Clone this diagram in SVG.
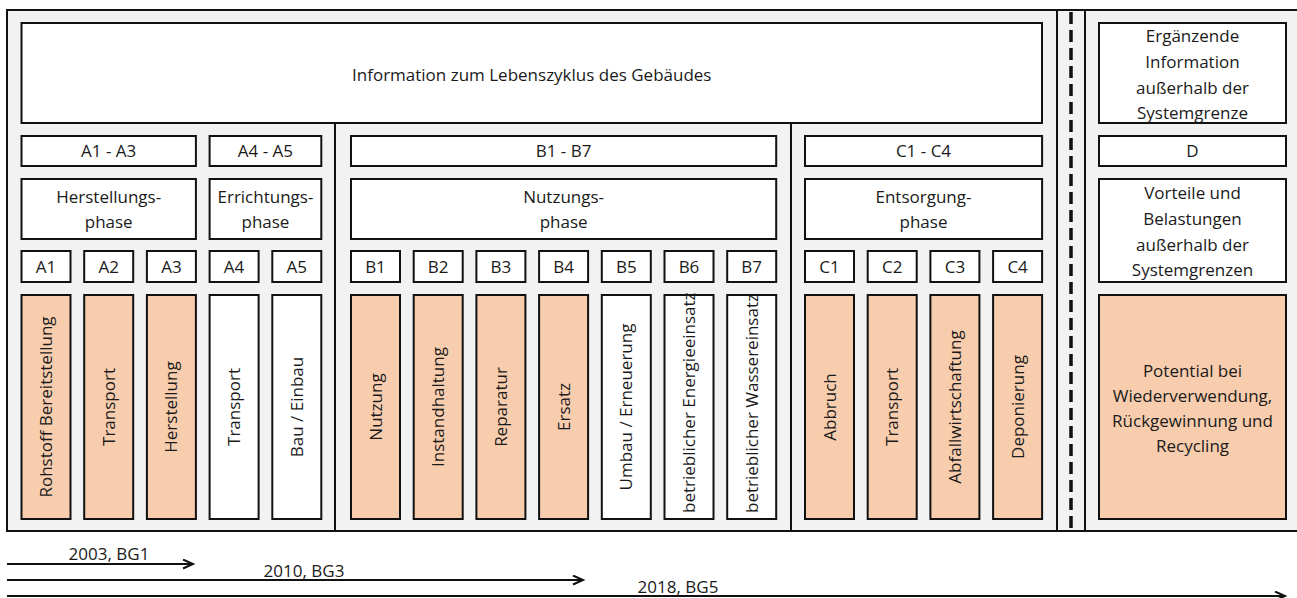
<svg xmlns="http://www.w3.org/2000/svg" width="1297" height="598" viewBox="0 0 1297 598">
<style>
.bx{fill:#fff;stroke:#111;stroke-width:2}
.or{fill:#f8cdae;stroke:#111;stroke-width:2}
.t{font-family:"Open Sans","Liberation Sans",sans-serif;font-size:17px;fill:#1a1a1a;text-anchor:middle}
.v{font-family:"Open Sans","Liberation Sans",sans-serif;font-size:17px;fill:#1a1a1a;text-anchor:middle}
.vs{font-family:"Open Sans","Liberation Sans",sans-serif;font-size:17px;fill:#1a1a1a;text-anchor:start}
.sep{stroke:#111;stroke-width:2;fill:none}
.arr{stroke:#111;stroke-width:2;fill:none;marker-end:url(#ah)}
</style>
<defs>
<marker id="ah" markerUnits="userSpaceOnUse" markerWidth="14" markerHeight="12" refX="11" refY="5" orient="auto">
<path d="M1,0.5 L11,5 L1,9.5" fill="none" stroke="#111" stroke-width="2"/>
</marker>
</defs>

<g id="frame">
<rect x="7" y="10" width="1300" height="521" fill="#f2f2f2" stroke="#111" stroke-width="2"/>
<line class="sep" x1="335" y1="123" x2="335" y2="531"/>
<line class="sep" x1="791" y1="123" x2="791" y2="531"/>
<line class="sep" x1="1057" y1="10" x2="1057" y2="531"/>
<line class="sep" x1="1085" y1="10" x2="1085" y2="531"/>
<line x1="1071" y1="12" x2="1071" y2="531" stroke="#111" stroke-width="3.5" stroke-dasharray="12,6"/>
</g>

<g id="title">
<rect class="bx" x="21.5" y="23" width="1020.5" height="100"/>
<text class="t" x="531.75" y="81">Information zum Lebenszyklus des Gebäudes</text>
</g>

<g id="A1-A3">
<rect class="bx" x="21.5" y="136" width="174.4" height="30"/>
<text class="t" x="108.7" y="157">A1 - A3</text>
</g>
<g id="A4-A5">
<rect class="bx" x="209.6" y="136" width="111.7" height="30"/>
<text class="t" x="265.45" y="157">A4 - A5</text>
</g>
<g id="B1-B7">
<rect class="bx" x="351" y="136" width="425.2" height="30"/>
<text class="t" x="563.6" y="157">B1 - B7</text>
</g>
<g id="C1-C4">
<rect class="bx" x="805" y="136" width="237.1" height="30"/>
<text class="t" x="923.5" y="157">C1 - C4</text>
</g>
<g id="D">
<rect class="bx" x="1099" y="136" width="187" height="30"/>
<text class="t" x="1192.5" y="157">D</text>
</g>

<g id="ergaenzende">
<rect class="bx" x="1099" y="23" width="187" height="100"/>
<text class="t" x="1192.5" y="42">Ergänzende</text>
<text class="t" x="1192.5" y="68">Information</text>
<text class="t" x="1192.5" y="94">außerhalb der</text>
<text class="t" x="1192.5" y="119">Systemgrenze</text>
</g>

<g id="herstellungsphase">
<rect class="bx" x="21.5" y="179" width="174.4" height="60"/>
<text class="t" x="108.7" y="203">Herstellungs-</text>
<text class="t" x="108.7" y="228">phase</text>
</g>
<g id="errichtungsphase">
<rect class="bx" x="209.6" y="179" width="111.7" height="60"/>
<text class="t" x="265.45" y="203">Errichtungs-</text>
<text class="t" x="265.45" y="228">phase</text>
</g>
<g id="nutzungsphase">
<rect class="bx" x="351" y="179" width="425.2" height="60"/>
<text class="t" x="563.6" y="203">Nutzungs-</text>
<text class="t" x="563.6" y="228">phase</text>
</g>
<g id="entsorgungphase">
<rect class="bx" x="805" y="179" width="237.1" height="60"/>
<text class="t" x="923.5" y="203">Entsorgung-</text>
<text class="t" x="923.5" y="228">phase</text>
</g>
<g id="vorteile">
<rect class="bx" x="1099" y="179" width="187" height="103"/>
<text class="t" x="1192.5" y="199">Vorteile und</text>
<text class="t" x="1192.5" y="225">Belastungen</text>
<text class="t" x="1192.5" y="251">außerhalb der</text>
<text class="t" x="1192.5" y="276">Systemgrenzen</text>
</g>

<!-- module code boxes -->
<g id="A1"><rect class="bx" x="21.5" y="251" width="49" height="31"/><text class="t" x="46" y="273">A1</text></g>
<g id="A2"><rect class="bx" x="84.2" y="251" width="49" height="31"/><text class="t" x="108.7" y="273">A2</text></g>
<g id="A3"><rect class="bx" x="146.9" y="251" width="49" height="31"/><text class="t" x="171.4" y="273">A3</text></g>
<g id="A4"><rect class="bx" x="209.6" y="251" width="49" height="31"/><text class="t" x="234.1" y="273">A4</text></g>
<g id="A5"><rect class="bx" x="272.3" y="251" width="49" height="31"/><text class="t" x="296.8" y="273">A5</text></g>
<g id="B1"><rect class="bx" x="351" y="251" width="49" height="31"/><text class="t" x="375.5" y="273">B1</text></g>
<g id="B2"><rect class="bx" x="413.7" y="251" width="49" height="31"/><text class="t" x="438.2" y="273">B2</text></g>
<g id="B3"><rect class="bx" x="476.4" y="251" width="49" height="31"/><text class="t" x="500.9" y="273">B3</text></g>
<g id="B4"><rect class="bx" x="539.1" y="251" width="49" height="31"/><text class="t" x="563.6" y="273">B4</text></g>
<g id="B5"><rect class="bx" x="601.8" y="251" width="49" height="31"/><text class="t" x="626.3" y="273">B5</text></g>
<g id="B6"><rect class="bx" x="664.5" y="251" width="49" height="31"/><text class="t" x="689" y="273">B6</text></g>
<g id="B7"><rect class="bx" x="727.2" y="251" width="49" height="31"/><text class="t" x="751.7" y="273">B7</text></g>
<g id="C1"><rect class="bx" x="805" y="251" width="49" height="31"/><text class="t" x="829.5" y="273">C1</text></g>
<g id="C2"><rect class="bx" x="867.7" y="251" width="49" height="31"/><text class="t" x="892.2" y="273">C2</text></g>
<g id="C3"><rect class="bx" x="930.4" y="251" width="49" height="31"/><text class="t" x="954.9" y="273">C3</text></g>
<g id="C4"><rect class="bx" x="993.1" y="251" width="49" height="31"/><text class="t" x="1017.6" y="273">C4</text></g>

<!-- tall process boxes -->
<g id="rohstoff"><rect class="or" x="21.5" y="295" width="49" height="224"/><text class="v" x="52" y="407" transform="rotate(-90 52 407)">Rohstoff Bereitstellung</text></g>
<g id="transport-a2"><rect class="or" x="84.2" y="295" width="49" height="224"/><text class="v" x="114.7" y="407" transform="rotate(-90 114.7 407)">Transport</text></g>
<g id="herstellung"><rect class="or" x="146.9" y="295" width="49" height="224"/><text class="v" x="177.4" y="407" transform="rotate(-90 177.4 407)">Herstellung</text></g>
<g id="transport-a4"><rect class="bx" x="209.6" y="295" width="49" height="224"/><text class="v" x="240.1" y="407" transform="rotate(-90 240.1 407)">Transport</text></g>
<g id="bau"><rect class="bx" x="272.3" y="295" width="49" height="224"/><text class="v" x="302.8" y="407" transform="rotate(-90 302.8 407)">Bau / Einbau</text></g>
<g id="nutzung"><rect class="or" x="351" y="295" width="49" height="224"/><text class="v" x="381.5" y="407" transform="rotate(-90 381.5 407)">Nutzung</text></g>
<g id="instandhaltung"><rect class="or" x="413.7" y="295" width="49" height="224"/><text class="v" x="444.2" y="407" transform="rotate(-90 444.2 407)">Instandhaltung</text></g>
<g id="reparatur"><rect class="or" x="476.4" y="295" width="49" height="224"/><text class="v" x="506.9" y="407" transform="rotate(-90 506.9 407)">Reparatur</text></g>
<g id="ersatz"><rect class="or" x="539.1" y="295" width="49" height="224"/><text class="v" x="569.6" y="407" transform="rotate(-90 569.6 407)">Ersatz</text></g>
<g id="umbau"><rect class="bx" x="601.8" y="295" width="49" height="224"/><text class="v" x="632.3" y="407" transform="rotate(-90 632.3 407)">Umbau / Erneuerung</text></g>
<g id="energie"><rect class="bx" x="664.5" y="295" width="49" height="224"/><text class="vs" x="695" y="513" transform="rotate(-90 695 513)">betrieblicher Energieeinsatz</text></g>
<g id="wasser"><rect class="bx" x="727.2" y="295" width="49" height="224"/><text class="vs" x="757.7" y="513" transform="rotate(-90 757.7 513)">betrieblicher Wassereinsatz</text></g>
<g id="abbruch"><rect class="or" x="805" y="295" width="49" height="224"/><text class="v" x="835.5" y="407" transform="rotate(-90 835.5 407)">Abbruch</text></g>
<g id="transport-c2"><rect class="or" x="867.7" y="295" width="49" height="224"/><text class="v" x="898.2" y="407" transform="rotate(-90 898.2 407)">Transport</text></g>
<g id="abfall"><rect class="or" x="930.4" y="295" width="49" height="224"/><text class="v" x="960.9" y="407" transform="rotate(-90 960.9 407)">Abfallwirtschaftung</text></g>
<g id="deponierung"><rect class="or" x="993.1" y="295" width="49" height="224"/><text class="v" x="1023.6" y="407" transform="rotate(-90 1023.6 407)">Deponierung</text></g>
<g id="potential">
<rect class="or" x="1099" y="295" width="187" height="224"/>
<text class="t" x="1192.5" y="377">Potential bei</text>
<text class="t" x="1192.5" y="402">Wiederverwendung,</text>
<text class="t" x="1192.5" y="427">Rückgewinnung und</text>
<text class="t" x="1192.5" y="452">Recycling</text>
</g>

<g id="connectors">
<path class="arr" d="M7,564 H193"/>
<path class="arr" d="M7,580 H583"/>
<path class="arr" d="M7,596 H1285"/>
<text class="t" x="109" y="560">2003, BG1</text>
<text class="t" x="304" y="577">2010, BG3</text>
<text class="t" x="678" y="593">2018, BG5</text>
</g>
</svg>
